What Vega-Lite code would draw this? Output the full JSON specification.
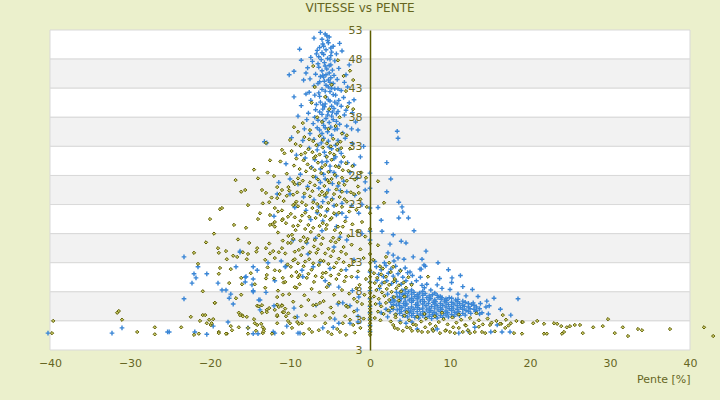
{
"$schema":"https://vega.github.io/schema/vega-lite/v6.json",
"width":640,"height":320,
"autosize":{"type":"none"},
"padding":{"left":50,"top":30,"right":30,"bottom":50},
"background":"#ebf0cc",
"config":{"view":{"stroke":null},"font":"DejaVu Sans","axis":{"labelOverlap":false}},
"title":{"text":"VITESSE vs PENTE","fontSize":12,"fontWeight":"normal","color":"#66661f","anchor":"middle","frame":"group","dx":-10,"offset":9,"font":"DejaVu Sans"},
"datasets":{
"bandes":[{"v":48,"v2":53,"b":"a"},{"v":43,"v2":48,"b":"b"},{"v":38,"v2":43,"b":"a"},{"v":33,"v2":38,"b":"b"},{"v":28,"v2":33,"b":"a"},{"v":23,"v2":28,"b":"b"},{"v":18,"v2":23,"b":"a"},{"v":13,"v2":18,"b":"b"},{"v":8,"v2":13,"b":"a"},{"v":3,"v2":8,"b":"b"},{"v":-2,"v2":3,"b":"a"}],
"bleu":[
{"p":-5.6,"v":52.3},{"p":-5.1,"v":51.8},{"p":-6.0,"v":51.4},{"p":-7.0,"v":51.6},{"p":-5.2,"v":50.8},{"p":-3.8,"v":50.7},{"p":-4.6,"v":50.2},{"p":-6.3,"v":50.0},{"p":-5.5,"v":49.6},{"p":-8.8,"v":49.7},{"p":-3.5,"v":49.4},{"p":-6.7,"v":48.9},{"p":-5.8,"v":48.8},{"p":-4.9,"v":48.6},{"p":-7.4,"v":48.3},{"p":-5.3,"v":48.1},{"p":-6.1,"v":47.9},{"p":-4.4,"v":47.7},{"p":-5.7,"v":47.4},{"p":-6.5,"v":47.2},{"p":-4.9,"v":47.0},{"p":-10.1,"v":45.3},{"p":-9.5,"v":45.9},{"p":-7.8,"v":46.5},{"p":-5.4,"v":46.3},{"p":-6.0,"v":46.0},{"p":-3.9,"v":46.4},{"p":-5.1,"v":45.6},{"p":-6.8,"v":45.4},{"p":-4.5,"v":45.2},{"p":-8.0,"v":45.6},{"p":-7.5,"v":44.6},{"p":-5.8,"v":44.9},{"p":-5.2,"v":44.4},{"p":-6.3,"v":44.1},{"p":-4.1,"v":44.5},{"p":-3.2,"v":44.0},{"p":-8.3,"v":44.4},{"p":-7.0,"v":43.4},{"p":-5.5,"v":43.5},{"p":-4.8,"v":43.0},{"p":-6.0,"v":42.8},{"p":-3.6,"v":42.6},{"p":-2.8,"v":43.2},{"p":-5.1,"v":46.9},{"p":-6.6,"v":49.5},{"p":-4.2,"v":48.9},{"p":-7.2,"v":47.6},{"p":-5.9,"v":45.2},{"p":-4.6,"v":43.8},{"p":-8.6,"v":47.8},{"p":-2.6,"v":47.0},{"p":-3.0,"v":45.3},{"p":-5.4,"v":52.0},{"p":-6.2,"v":52.6},{"p":-4.9,"v":49.9},{"p":-5.9,"v":50.6},{"p":-6.4,"v":48.4},{"p":-5.0,"v":44.0},{"p":-5.6,"v":42.5},{"p":-7.6,"v":42.3},{"p":-4.3,"v":41.8},
{"p":-5.3,"v":51.2},{"p":-5.8,"v":50.2},{"p":-4.8,"v":49.2},{"p":-6.0,"v":49.1},{"p":-5.0,"v":48.0},{"p":-5.6,"v":46.8},{"p":-6.4,"v":46.6},{"p":-4.7,"v":46.1},{"p":-5.5,"v":45.3},{"p":-6.2,"v":45.0},{"p":-4.9,"v":44.8},{"p":-5.7,"v":44.2},{"p":-6.5,"v":43.8},{"p":-5.2,"v":43.2},{"p":-4.4,"v":42.9},{"p":-6.3,"v":41.6},{"p":-5.2,"v":41.0},{"p":-4.4,"v":40.6},{"p":-5.6,"v":40.3},{"p":-6.7,"v":40.2},{"p":-4.8,"v":39.9},{"p":-5.9,"v":39.4},{"p":-4.0,"v":39.0},{"p":-6.3,"v":38.9},{"p":-5.3,"v":38.4},{"p":-4.2,"v":38.6},{"p":-5.9,"v":37.3},{"p":-4.6,"v":37.6},{"p":-6.9,"v":38.0},{"p":-5.6,"v":36.2},{"p":-4.1,"v":36.0},{"p":-6.0,"v":35.2},{"p":-4.8,"v":34.9},{"p":-5.8,"v":34.4},{"p":-4.0,"v":34.0},{"p":-6.5,"v":33.2},{"p":-5.1,"v":32.9},{"p":-3.9,"v":32.4},{"p":-5.5,"v":31.3},{"p":-6.0,"v":30.3},{"p":-4.3,"v":31.2},{"p":-3.6,"v":30.3},{"p":-5.0,"v":29.6},{"p":-4.5,"v":28.5},{"p":-5.8,"v":28.2},{"p":-6.2,"v":26.8},{"p":-4.7,"v":26.6},{"p":-3.7,"v":25.4},{"p":-5.5,"v":24.3},{"p":-6.4,"v":22.6},{"p":-4.5,"v":22.8},{"p":-3.5,"v":21.5},
{"p":-8.0,"v":42.0},{"p":-6.9,"v":41.8},{"p":-5.5,"v":41.5},{"p":-4.6,"v":41.9},{"p":-3.3,"v":41.4},{"p":-7.4,"v":40.9},{"p":-6.2,"v":40.6},{"p":-5.0,"v":40.8},{"p":-4.1,"v":40.3},{"p":-2.6,"v":40.5},{"p":-8.6,"v":40.0},{"p":-5.7,"v":39.8},{"p":-4.5,"v":39.5},{"p":-3.6,"v":39.9},{"p":-6.8,"v":39.3},{"p":-5.2,"v":39.0},{"p":-7.7,"v":38.7},{"p":-6.0,"v":38.5},{"p":-4.8,"v":38.2},{"p":-3.2,"v":38.4},{"p":-2.2,"v":38.8},{"p":-9.0,"v":38.2},{"p":-5.5,"v":37.8},{"p":-6.5,"v":37.5},{"p":-4.2,"v":37.3},{"p":-3.8,"v":36.8},{"p":-7.1,"v":36.9},{"p":-5.8,"v":36.6},{"p":-4.9,"v":36.3},{"p":-2.9,"v":36.5},{"p":-8.2,"v":36.0},{"p":-6.3,"v":35.8},{"p":-5.3,"v":35.5},{"p":-4.4,"v":35.9},{"p":-3.4,"v":35.3},{"p":-7.5,"v":35.2},{"p":-1.8,"v":37.2},{"p":-5.0,"v":42.4},{"p":-6.4,"v":42.2},{"p":-4.0,"v":42.9},{"p":-2.0,"v":41.0},{"p":-9.5,"v":41.5},{"p":-7.9,"v":37.6},{"p":-5.9,"v":40.1},{"p":-4.7,"v":38.9},{"p":-3.0,"v":39.2},{"p":-6.6,"v":36.2},{"p":-5.1,"v":37.1},{"p":-1.5,"v":35.8},{"p":-3.9,"v":40.9},{"p":-2.3,"v":36.0},
{"p":-13.2,"v":33.8},{"p":-9.8,"v":34.5},{"p":-8.4,"v":34.0},{"p":-7.0,"v":34.2},{"p":-6.1,"v":33.6},{"p":-5.2,"v":33.9},{"p":-4.3,"v":33.2},{"p":-3.1,"v":34.4},{"p":-2.2,"v":33.5},{"p":-7.6,"v":32.7},{"p":-6.6,"v":32.4},{"p":-5.7,"v":32.0},{"p":-4.8,"v":32.6},{"p":-3.6,"v":31.8},{"p":-9.2,"v":31.5},{"p":-8.1,"v":31.0},{"p":-6.9,"v":30.7},{"p":-5.4,"v":30.4},{"p":-4.5,"v":30.9},{"p":-2.8,"v":30.2},{"p":-1.2,"v":31.2},{"p":-10.5,"v":30.0},{"p":-7.3,"v":29.4},{"p":-6.2,"v":29.1},{"p":-5.0,"v":28.8},{"p":-3.9,"v":29.6},{"p":-2.5,"v":28.5},{"p":-8.7,"v":28.2},{"p":-6.8,"v":27.7},{"p":-5.6,"v":27.4},{"p":-4.2,"v":27.9},{"p":-3.3,"v":27.0},{"p":-1.6,"v":27.6},{"p":-11.4,"v":26.8},{"p":-9.0,"v":26.5},{"p":-7.8,"v":26.1},{"p":-6.4,"v":25.8},{"p":-5.2,"v":25.5},{"p":-4.0,"v":26.2},{"p":-2.9,"v":25.2},{"p":-1.9,"v":24.6},{"p":-10.0,"v":24.8},{"p":-8.3,"v":24.3},{"p":-7.0,"v":23.8},{"p":-5.9,"v":23.5},{"p":-4.7,"v":24.0},{"p":-3.5,"v":23.2},{"p":-2.3,"v":22.8},{"p":-9.4,"v":22.5},{"p":-8.0,"v":22.0},{"p":-6.6,"v":21.6},{"p":-5.4,"v":21.9},{"p":-4.2,"v":21.2},{"p":-3.0,"v":20.8},{"p":-1.4,"v":21.5},{"p":-12.0,"v":21.0},{"p":-7.4,"v":20.4},{"p":-5.9,"v":20.2},{"p":-1.0,"v":23.0},{"p":-0.6,"v":25.5},{"p":-2.0,"v":29.8},{"p":-0.8,"v":33.0},
{"p":-23.25,"v":14.0},{"p":-21.5,"v":12.3},{"p":-22.0,"v":11.1},{"p":-21.75,"v":10.4},{"p":-22.25,"v":9.5},{"p":-20.4,"v":11.1},{"p":-23.25,"v":6.8},{"p":-25.1,"v":1.1},{"p":-21.9,"v":1.1},{"p":-20.4,"v":0.7},{"p":-19.0,"v":9.5},{"p":-18.5,"v":8.3},{"p":-18.0,"v":8.3},{"p":-17.4,"v":7.6},{"p":-17.6,"v":6.9},{"p":-17.1,"v":5.9},{"p":-16.25,"v":15.0},{"p":-16.75,"v":12.3},{"p":-15.6,"v":9.7},{"p":-15.5,"v":10.6},{"p":-14.6,"v":10.2},{"p":-14.75,"v":9.2},{"p":-14.1,"v":11.7},{"p":-14.6,"v":8.2},{"p":-13.9,"v":6.6},{"p":-13.0,"v":7.9},{"p":-12.0,"v":5.6},{"p":-12.75,"v":13.0},{"p":-11.1,"v":13.3},{"p":-11.9,"v":9.9},{"p":-10.6,"v":12.3},{"p":-9.6,"v":16.9},{"p":-17.75,"v":2.8},{"p":-19.6,"v":2.1},{"p":-15.25,"v":1.8},{"p":-14.6,"v":0.8},{"p":-10.4,"v":2.1},{"p":-11.9,"v":0.9},{"p":-9.1,"v":3.7},{"p":-9.5,"v":5.2},{"p":-13.75,"v":4.9},{"p":-40.25,"v":0.9},{"p":-32.25,"v":0.9},{"p":-31.0,"v":1.8},{"p":-25.3,"v":1.1},{"p":-14.0,"v":0.8},{"p":-12.1,"v":1.1},{"p":-9.0,"v":0.9},{"p":-8.75,"v":0.9},{"p":-6.75,"v":5.7},{"p":-4.6,"v":1.9},{"p":-4.4,"v":3.3},{"p":-4.0,"v":5.9},{"p":-2.9,"v":5.6},{"p":-2.5,"v":5.6},{"p":-1.6,"v":4.9},{"p":-1.5,"v":3.8},{"p":-5.9,"v":1.8},
{"p":-12.9,"v":33.6},{"p":-11.6,"v":24.8},{"p":-10.0,"v":27.4},{"p":-16.25,"v":14.8},{"p":-15.6,"v":10.5},{"p":-14.6,"v":12.3},{"p":-14.6,"v":8.0},{"p":-13.75,"v":6.6},{"p":-10.5,"v":12.4},{"p":-8.5,"v":11.7},{"p":-8.4,"v":10.6},{"p":-7.75,"v":14.5},{"p":-7.1,"v":12.3},{"p":-7.9,"v":16.4},{"p":-6.25,"v":13.1},{"p":-5.6,"v":9.9},{"p":-5.1,"v":9.2},{"p":-3.9,"v":8.8},{"p":-4.5,"v":15.7},{"p":-3.75,"v":17.4},{"p":-2.9,"v":16.9},{"p":-3.4,"v":6.1},{"p":-1.6,"v":10.5},{"p":-1.4,"v":7.1},{"p":-1.5,"v":2.8},{"p":-2.5,"v":2.6},{"p":-3.9,"v":2.6},{"p":-6.0,"v":18.5},{"p":-5.0,"v":12.0},{"p":-2.0,"v":13.5},{"p":-1.0,"v":18.0},{"p":-4.2,"v":19.2},{"p":-6.8,"v":17.2},{"p":-3.0,"v":11.8},{"p":-2.2,"v":8.2},
{"p":3.4,"v":35.6},{"p":3.5,"v":34.4},{"p":2.1,"v":30.2},{"p":2.6,"v":27.4},{"p":2.1,"v":25.2},{"p":3.6,"v":23.4},{"p":4.0,"v":22.6},{"p":3.6,"v":20.7},{"p":4.8,"v":20.7},{"p":1.4,"v":20.3},{"p":1.5,"v":18.4},{"p":2.9,"v":17.8},{"p":2.5,"v":16.2},{"p":3.9,"v":16.7},{"p":4.5,"v":16.4},{"p":2.25,"v":14.7},{"p":2.9,"v":14.3},{"p":3.5,"v":13.8},{"p":4.25,"v":13.6},{"p":5.4,"v":14.0},{"p":6.5,"v":13.6},{"p":6.9,"v":12.4},{"p":6.4,"v":11.9},{"p":4.1,"v":21.7},{"p":5.5,"v":18.5},{"p":7.0,"v":15.0},{"p":8.5,"v":13.0},{"p":9.8,"v":11.8},{"p":11.3,"v":10.8},{"p":1.0,"v":22.5},
{"p":0,"v":1.2},{"p":0,"v":2.2},{"p":0,"v":3.3},{"p":0,"v":4.4},{"p":0,"v":5.5},{"p":0,"v":6.8},{"p":0,"v":8.2},{"p":0,"v":9.7},{"p":0,"v":11.4},{"p":0,"v":16.9},{"p":0,"v":18.4},{"p":0,"v":22.4},{"p":0,"v":25.8},{"p":0,"v":28.4},{"p":-0.6,"v":26.9},
{"p":0.8,"v":12.3},{"p":1.4,"v":11.8},{"p":2.0,"v":12.5},{"p":2.6,"v":11.9},{"p":3.2,"v":12.4},{"p":3.8,"v":11.7},{"p":4.4,"v":12.1},{"p":1.1,"v":11.0},{"p":1.7,"v":10.6},{"p":2.3,"v":11.2},{"p":2.9,"v":10.7},{"p":3.5,"v":11.1},{"p":4.1,"v":10.5},{"p":4.7,"v":11.3},{"p":5.3,"v":10.8},{"p":0.9,"v":10.0},{"p":1.5,"v":9.5},{"p":2.1,"v":9.9},{"p":2.7,"v":9.4},{"p":3.3,"v":9.8},{"p":3.9,"v":9.3},{"p":4.5,"v":9.9},{"p":5.2,"v":9.4},{"p":5.8,"v":9.9},{"p":6.3,"v":10.5},{"p":1.2,"v":8.6},{"p":6.5,"v":9.1},{"p":7.1,"v":9.3},{"p":8.4,"v":9.2},{"p":6.75,"v":12.6},{"p":6.25,"v":11.9},{"p":5.0,"v":11.4},{"p":10.25,"v":10.4},{"p":0.6,"v":13.2},{"p":1.8,"v":13.0},{"p":3.0,"v":13.3},
{"p":2.5,"v":4.6},{"p":2.7,"v":5.4},{"p":2.6,"v":6.2},{"p":2.8,"v":7.0},{"p":3.2,"v":4.1},{"p":3.4,"v":4.9},{"p":3.3,"v":5.7},{"p":3.1,"v":6.4},{"p":3.4,"v":7.2},{"p":3.3,"v":7.9},{"p":4.1,"v":3.9},{"p":3.9,"v":4.6},{"p":4.0,"v":5.3},{"p":4.2,"v":6.0},{"p":3.9,"v":6.8},{"p":4.1,"v":7.5},{"p":4.0,"v":8.2},{"p":4.7,"v":3.7},{"p":4.9,"v":4.4},{"p":4.8,"v":5.1},{"p":4.6,"v":5.9},{"p":4.9,"v":6.6},{"p":4.7,"v":7.3},{"p":4.8,"v":8.0},{"p":5.6,"v":3.6},{"p":5.4,"v":4.3},{"p":5.5,"v":5.0},{"p":5.7,"v":5.8},{"p":5.4,"v":6.5},{"p":5.6,"v":7.2},{"p":5.5,"v":7.9},{"p":6.1,"v":3.5},{"p":6.3,"v":4.2},{"p":6.2,"v":5.0},{"p":6.0,"v":5.7},{"p":6.3,"v":6.4},{"p":6.1,"v":7.1},{"p":6.2,"v":7.8},{"p":7.0,"v":3.5},{"p":6.9,"v":4.2},{"p":7.1,"v":4.9},{"p":7.0,"v":5.6},{"p":6.8,"v":6.3},{"p":7.1,"v":7.0},{"p":6.9,"v":7.7},{"p":7.7,"v":3.4},{"p":7.8,"v":4.1},{"p":7.6,"v":4.8},{"p":7.7,"v":5.5},{"p":7.9,"v":6.2},{"p":7.6,"v":6.9},{"p":7.8,"v":7.5},{"p":8.4,"v":3.5},{"p":8.3,"v":4.2},{"p":8.5,"v":4.9},{"p":8.4,"v":5.6},{"p":8.2,"v":6.3},{"p":8.5,"v":7.0},{"p":8.4,"v":7.4},{"p":9.1,"v":3.6},{"p":9.2,"v":4.3},{"p":9.0,"v":5.0},{"p":9.1,"v":5.7},{"p":9.3,"v":6.4},{"p":9.0,"v":7.0},{"p":9.8,"v":3.7},{"p":9.7,"v":4.4},{"p":9.9,"v":5.1},{"p":9.8,"v":5.8},{"p":9.6,"v":6.5},{"p":9.9,"v":7.0},{"p":10.5,"v":3.8},{"p":10.6,"v":4.5},{"p":10.4,"v":5.2},{"p":10.5,"v":5.9},{"p":10.7,"v":6.6},{"p":11.2,"v":3.9},{"p":11.1,"v":4.6},{"p":11.3,"v":5.3},{"p":11.2,"v":6.0},{"p":11.0,"v":6.7},{"p":11.9,"v":4.0},{"p":12.0,"v":4.8},{"p":11.8,"v":5.5},{"p":11.9,"v":6.2},{"p":12.6,"v":4.3},{"p":12.5,"v":5.1},{"p":12.7,"v":5.8},{"p":13.2,"v":4.6},{"p":13.3,"v":5.4},{"p":3.7,"v":5.0},{"p":4.4,"v":6.4},{"p":5.1,"v":4.7},{"p":5.9,"v":6.8},{"p":6.6,"v":4.6},{"p":7.3,"v":6.0},{"p":8.0,"v":4.5},{"p":8.8,"v":5.3},{"p":9.5,"v":4.0},{"p":10.2,"v":6.2},{"p":10.9,"v":5.0},{"p":11.6,"v":5.7},{"p":6.6,"v":7.4},{"p":5.2,"v":7.6},{"p":8.9,"v":6.7},{"p":3.6,"v":6.1},
{"p":2.9,"v":5.0},{"p":2.9,"v":5.8},{"p":2.9,"v":6.6},{"p":3.7,"v":4.3},{"p":3.7,"v":5.6},{"p":3.7,"v":6.4},{"p":3.7,"v":7.1},{"p":3.7,"v":7.8},{"p":4.4,"v":3.9},{"p":4.4,"v":4.8},{"p":4.4,"v":5.6},{"p":4.4,"v":7.0},{"p":4.4,"v":7.7},{"p":4.4,"v":8.4},{"p":5.2,"v":3.9},{"p":5.2,"v":5.4},{"p":5.2,"v":6.2},{"p":5.2,"v":6.9},{"p":5.2,"v":8.3},{"p":5.9,"v":3.9},{"p":5.9,"v":4.6},{"p":5.9,"v":5.3},{"p":5.9,"v":6.1},{"p":5.9,"v":7.5},{"p":6.6,"v":3.9},{"p":6.6,"v":5.2},{"p":6.6,"v":5.9},{"p":6.6,"v":6.7},{"p":6.6,"v":8.1},{"p":7.4,"v":3.8},{"p":7.4,"v":4.5},{"p":7.4,"v":5.2},{"p":7.4,"v":6.6},{"p":7.4,"v":7.3},{"p":8.1,"v":3.8},{"p":8.1,"v":5.2},{"p":8.1,"v":5.9},{"p":8.1,"v":6.6},{"p":8.1,"v":7.8},{"p":8.8,"v":3.9},{"p":8.8,"v":4.6},{"p":8.8,"v":6.0},{"p":8.8,"v":7.2},{"p":9.5,"v":4.7},{"p":9.5,"v":5.4},{"p":9.5,"v":6.1},{"p":9.5,"v":6.8},{"p":10.2,"v":4.1},{"p":10.2,"v":4.8},{"p":10.2,"v":5.5},{"p":10.2,"v":6.9},{"p":10.9,"v":4.2},{"p":10.9,"v":5.6},{"p":10.9,"v":6.3},{"p":11.6,"v":4.3},{"p":11.6,"v":5.0},{"p":11.6,"v":6.4},{"p":12.3,"v":4.6},{"p":12.3,"v":5.4},{"p":12.3,"v":6.0},{"p":13.0,"v":5.0},{"p":13.0,"v":5.7},{"p":13.7,"v":5.1},{"p":13.7,"v":4.2},
{"p":18.5,"v":6.8},{"p":17.6,"v":4.0},{"p":16.5,"v":1.1},{"p":17.5,"v":1.1},{"p":14.6,"v":6.4},{"p":14.9,"v":5.6},{"p":12.9,"v":6.1},{"p":14.0,"v":4.4},{"p":15.9,"v":2.3},{"p":15.1,"v":1.1},{"p":13.5,"v":7.2},{"p":15.5,"v":6.9},{"p":16.3,"v":5.0},{"p":13.3,"v":4.8},{"p":14.8,"v":4.2},{"p":12.8,"v":8.4},{"p":11.6,"v":8.9},{"p":10.2,"v":9.6},{"p":8.7,"v":10.3},{"p":7.9,"v":1.4},{"p":5.9,"v":1.6},{"p":5.25,"v":2.8},{"p":11.1,"v":0.9},{"p":12.25,"v":1.3},{"p":13.1,"v":1.9},{"p":3.75,"v":3.0},{"p":14.5,"v":5.4},{"p":8.4,"v":1.6},{"p":10.0,"v":8.4},{"p":9.0,"v":8.6},{"p":11.0,"v":7.6},{"p":12.0,"v":7.3},{"p":13.8,"v":6.0},{"p":6.8,"v":8.7},{"p":7.6,"v":8.3},{"p":4.5,"v":2.6},{"p":2.0,"v":5.0},{"p":1.4,"v":4.4},{"p":1.2,"v":6.0},{"p":2.2,"v":3.7},{"p":2.2,"v":7.6}
],
"olive":[
{"p":-8.2,"v":34.6},{"p":-7.1,"v":33.9},{"p":-6.3,"v":34.8},{"p":-5.4,"v":33.5},{"p":-4.6,"v":34.3},{"p":-3.7,"v":33.8},{"p":-9.3,"v":33.4},{"p":-2.9,"v":34.9},
{"p":-9.8,"v":32.2},{"p":-8.6,"v":31.6},{"p":-7.7,"v":32.5},{"p":-6.8,"v":31.3},{"p":-5.9,"v":32.8},{"p":-5.0,"v":31.9},{"p":-4.1,"v":32.4},{"p":-3.3,"v":31.2},{"p":-2.5,"v":32.6},{"p":-10.7,"v":31.8},
{"p":-11.2,"v":30.4},{"p":-9.5,"v":29.7},{"p":-8.3,"v":30.6},{"p":-7.4,"v":29.3},{"p":-6.5,"v":30.2},{"p":-5.6,"v":29.8},{"p":-4.8,"v":30.7},{"p":-3.9,"v":29.4},{"p":-3.0,"v":30.1},{"p":-2.2,"v":29.6},{"p":-7.0,"v":31.0},
{"p":-10.4,"v":28.3},{"p":-9.0,"v":27.5},{"p":-8.0,"v":28.7},{"p":-7.1,"v":27.8},{"p":-6.1,"v":28.4},{"p":-5.3,"v":27.2},{"p":-4.4,"v":28.1},{"p":-3.5,"v":27.6},{"p":-2.7,"v":28.8},{"p":-1.9,"v":27.3},{"p":-12.0,"v":27.9},
{"p":-11.6,"v":26.0},{"p":-10.1,"v":25.4},{"p":-8.8,"v":26.6},{"p":-7.8,"v":25.7},{"p":-6.9,"v":26.3},{"p":-6.0,"v":25.2},{"p":-5.1,"v":26.8},{"p":-4.2,"v":25.6},{"p":-3.2,"v":26.4},{"p":-2.4,"v":25.1},{"p":-1.5,"v":26.1},
{"p":-12.3,"v":24.2},{"p":-10.8,"v":23.6},{"p":-9.6,"v":24.7},{"p":-8.5,"v":23.4},{"p":-7.5,"v":24.4},{"p":-6.6,"v":23.1},{"p":-5.7,"v":24.6},{"p":-4.8,"v":23.8},{"p":-3.8,"v":24.3},{"p":-2.9,"v":23.5},{"p":-2.0,"v":24.8},{"p":-1.2,"v":23.9},
{"p":-11.0,"v":22.0},{"p":-9.9,"v":21.4},{"p":-9.0,"v":22.7},{"p":-8.1,"v":21.6},{"p":-7.2,"v":22.4},{"p":-6.2,"v":21.2},{"p":-5.3,"v":22.2},{"p":-4.5,"v":21.5},{"p":-3.5,"v":22.6},{"p":-2.6,"v":21.8},{"p":-1.7,"v":22.1},
{"p":-12.2,"v":19.6},{"p":-10.9,"v":20.5},{"p":-9.6,"v":19.3},{"p":-8.7,"v":20.2},{"p":-7.7,"v":19.5},{"p":-6.8,"v":20.7},{"p":-5.9,"v":19.8},{"p":-5.0,"v":20.4},{"p":-4.0,"v":19.2},{"p":-3.1,"v":20.1},{"p":-2.2,"v":19.6},
{"p":-11.5,"v":18.2},{"p":-10.2,"v":17.6},{"p":-9.3,"v":18.6},{"p":-8.3,"v":17.4},{"p":-7.4,"v":18.3},{"p":-6.4,"v":17.7},{"p":-5.5,"v":18.8},{"p":-4.6,"v":17.3},{"p":-3.7,"v":18.1},{"p":-2.7,"v":17.6},{"p":-1.6,"v":18.4},
{"p":-12.6,"v":16.3},{"p":-11.0,"v":15.5},{"p":-9.9,"v":16.4},{"p":-8.9,"v":15.2},{"p":-8.0,"v":16.6},{"p":-7.0,"v":15.8},{"p":-6.1,"v":16.2},{"p":-5.2,"v":15.4},{"p":-4.3,"v":16.5},{"p":-3.3,"v":15.7},{"p":-2.3,"v":16.1},{"p":-1.2,"v":15.3},
{"p":-11.9,"v":13.8},{"p":-10.6,"v":14.6},{"p":-9.6,"v":13.4},{"p":-8.6,"v":14.3},{"p":-7.6,"v":13.6},{"p":-6.7,"v":14.7},{"p":-5.8,"v":13.3},{"p":-4.9,"v":14.1},{"p":-3.9,"v":13.7},{"p":-3.0,"v":14.5},{"p":-2.0,"v":13.2},
{"p":-12.8,"v":12.2},{"p":-11.3,"v":11.6},{"p":-10.3,"v":12.7},{"p":-9.2,"v":11.4},{"p":-8.3,"v":12.4},{"p":-7.3,"v":11.8},{"p":-6.4,"v":12.6},{"p":-5.5,"v":11.3},{"p":-4.5,"v":12.2},{"p":-3.6,"v":11.7},{"p":-2.6,"v":12.5},{"p":-1.5,"v":11.5},
{"p":-12.0,"v":10.3},{"p":-10.8,"v":9.6},{"p":-9.8,"v":10.7},{"p":-8.8,"v":9.3},{"p":-7.9,"v":10.4},{"p":-7.0,"v":9.7},{"p":-6.0,"v":10.5},{"p":-5.1,"v":9.4},{"p":-4.2,"v":10.2},{"p":-3.2,"v":9.8},{"p":-2.3,"v":10.6},{"p":-1.3,"v":9.2},
{"p":-11.5,"v":8.2},{"p":-10.1,"v":7.6},{"p":-9.2,"v":8.7},{"p":-8.2,"v":7.4},{"p":-7.3,"v":8.5},{"p":-6.3,"v":7.9},{"p":-5.4,"v":8.8},{"p":-4.5,"v":7.5},{"p":-3.5,"v":8.3},{"p":-2.6,"v":7.7},{"p":-1.7,"v":8.6},
{"p":-9.6,"v":6.3},{"p":-8.6,"v":5.5},{"p":-7.7,"v":6.6},{"p":-6.7,"v":5.8},{"p":-5.8,"v":6.4},{"p":-4.9,"v":5.3},{"p":-3.9,"v":6.2},{"p":-3.0,"v":5.6},{"p":-2.0,"v":6.8},{"p":-1.0,"v":5.9},
{"p":-8.7,"v":33.1},{"p":-7.6,"v":34.2},{"p":-6.7,"v":33.2},{"p":-5.9,"v":34.1},{"p":-4.9,"v":33.0},{"p":-4.1,"v":33.4},
{"p":-9.2,"v":30.9},{"p":-8.1,"v":31.9},{"p":-7.2,"v":32.0},{"p":-6.3,"v":31.6},{"p":-5.4,"v":31.2},{"p":-4.5,"v":31.6},{"p":-3.6,"v":32.7},
{"p":-8.8,"v":29.1},{"p":-7.8,"v":29.9},{"p":-6.9,"v":28.9},{"p":-6.0,"v":29.4},{"p":-5.2,"v":28.6},{"p":-4.3,"v":29.6},{"p":-3.4,"v":28.9},
{"p":-9.6,"v":26.9},{"p":-8.4,"v":27.1},{"p":-7.5,"v":26.8},{"p":-6.5,"v":27.3},{"p":-5.7,"v":26.2},{"p":-4.8,"v":27.4},{"p":-3.9,"v":26.7},{"p":-2.9,"v":27.1},
{"p":-9.1,"v":25.1},{"p":-8.2,"v":24.9},{"p":-7.2,"v":25.3},{"p":-6.3,"v":24.6},{"p":-5.4,"v":25.0},{"p":-4.5,"v":24.8},{"p":-3.5,"v":25.2},
{"p":-9.4,"v":23.1},{"p":-8.0,"v":22.9},{"p":-7.1,"v":23.4},{"p":-6.1,"v":22.6},{"p":-5.2,"v":23.3},{"p":-4.2,"v":22.9},{"p":-3.2,"v":23.9},
{"p":-9.4,"v":20.8},{"p":-8.5,"v":21.1},{"p":-7.6,"v":20.9},{"p":-6.6,"v":21.9},{"p":-5.6,"v":21.0},{"p":-4.8,"v":20.7},{"p":-3.9,"v":21.6},
{"p":-9.0,"v":19.4},{"p":-8.1,"v":18.8},{"p":-7.1,"v":19.0},{"p":-6.3,"v":19.3},{"p":-5.4,"v":19.5},{"p":-4.4,"v":18.6},{"p":-3.4,"v":19.2},
{"p":-9.6,"v":17.1},{"p":-8.7,"v":16.8},{"p":-7.8,"v":17.1},{"p":-6.9,"v":16.9},{"p":-5.9,"v":17.2},{"p":-4.9,"v":16.7},{"p":-3.9,"v":17.0},
{"p":-9.4,"v":14.9},{"p":-8.4,"v":15.6},{"p":-7.5,"v":14.8},{"p":-6.5,"v":15.3},{"p":-5.6,"v":14.6},{"p":-4.6,"v":15.0},{"p":-3.6,"v":14.9},
{"p":-9.0,"v":12.9},{"p":-8.1,"v":13.2},{"p":-7.1,"v":12.9},{"p":-6.2,"v":13.4},{"p":-5.2,"v":12.8},{"p":-4.2,"v":13.0},{"p":-3.3,"v":13.1},
{"p":-8.8,"v":10.9},{"p":-7.7,"v":11.1},{"p":-6.8,"v":10.7},{"p":-5.9,"v":11.2},{"p":-4.9,"v":10.8},{"p":-3.9,"v":11.0},{"p":-3.0,"v":10.6},
{"p":-7.1,"v":46.8},{"p":-5.6,"v":41.5},{"p":-3.3,"v":45.1},{"p":-2.8,"v":39.8},{"p":-2.1,"v":39.4},{"p":-3.8,"v":38.0},{"p":-6.6,"v":38.0},{"p":-7.3,"v":40.5},{"p":-5.1,"v":39.4},{"p":-7.5,"v":35.8},{"p":-4.3,"v":36.5},{"p":-6.0,"v":37.2},{"p":-2.5,"v":46.0},{"p":-2.1,"v":44.4},{"p":-3.0,"v":42.5},{"p":-4.8,"v":43.6},{"p":-8.4,"v":37.0},{"p":-9.0,"v":35.5},{"p":-5.2,"v":36.0},{"p":-3.5,"v":35.2},{"p":-6.9,"v":43.2},{"p":-4.0,"v":47.8},
{"p":0,"v":0.6},{"p":0,"v":1.0},{"p":0,"v":1.5},{"p":0,"v":2.0},{"p":0,"v":2.6},{"p":0,"v":3.1},{"p":0,"v":3.6},{"p":0,"v":4.1},{"p":0,"v":4.6},{"p":0,"v":5.1},{"p":0,"v":5.7},{"p":0,"v":6.3},{"p":0,"v":7.0},{"p":0,"v":7.8},{"p":0,"v":8.7},{"p":0,"v":9.6},{"p":0,"v":10.6},{"p":0,"v":11.7},{"p":0,"v":13.0},{"p":0,"v":14.5},{"p":0,"v":16.3},{"p":0,"v":18.8},{"p":-0.5,"v":27.6},{"p":0,"v":21.5},
{"p":-1.0,"v":20.0},{"p":-0.6,"v":17.5},{"p":-1.4,"v":25.0},{"p":-0.8,"v":13.8},{"p":-0.5,"v":10.2},{"p":-0.7,"v":7.5},{"p":-1.1,"v":28.5},{"p":-0.4,"v":22.6},
{"p":0.5,"v":11.2},{"p":0.9,"v":10.4},{"p":1.4,"v":11.0},{"p":2.0,"v":10.6},{"p":2.6,"v":11.4},{"p":3.1,"v":10.2},{"p":0.6,"v":9.5},{"p":1.2,"v":9.0},{"p":1.8,"v":9.6},{"p":2.4,"v":9.2},{"p":3.0,"v":9.8},{"p":3.6,"v":9.1},{"p":4.2,"v":9.6},{"p":0.8,"v":8.3},{"p":1.5,"v":7.9},{"p":2.1,"v":8.5},{"p":2.7,"v":8.0},{"p":3.3,"v":8.6},{"p":3.9,"v":8.1},{"p":4.5,"v":8.7},{"p":0.5,"v":7.2},{"p":1.1,"v":6.8},{"p":1.8,"v":7.3},{"p":2.4,"v":6.6},{"p":3.0,"v":7.1},{"p":3.6,"v":6.5},{"p":4.3,"v":7.2},{"p":0.7,"v":5.9},{"p":1.4,"v":5.5},{"p":2.0,"v":6.1},{"p":2.8,"v":5.3},{"p":1.0,"v":4.6},{"p":1.7,"v":4.2},{"p":2.3,"v":4.8},{"p":3.2,"v":4.1},{"p":0.6,"v":3.5},{"p":1.3,"v":3.1},{"p":4.8,"v":10.5},{"p":5.2,"v":9.2},{"p":1.6,"v":12.0},{"p":2.9,"v":12.3},{"p":0.4,"v":13.5},{"p":3.8,"v":11.6},{"p":1.0,"v":16.0},{"p":2.0,"v":14.0},{"p":1.0,"v":27.0},{"p":1.75,"v":23.3},{"p":2.4,"v":13.0},{"p":7.25,"v":10.6},{"p":1.25,"v":12.4},
{"p":3.2,"v":3.6},{"p":3.8,"v":2.7},{"p":4.3,"v":3.9},{"p":4.9,"v":3.1},{"p":5.4,"v":2.4},{"p":5.9,"v":3.7},{"p":6.4,"v":2.9},{"p":7.0,"v":3.4},{"p":7.5,"v":2.5},{"p":8.1,"v":3.8},{"p":8.6,"v":2.8},{"p":9.2,"v":3.3},{"p":9.7,"v":2.4},{"p":10.3,"v":3.6},{"p":10.8,"v":2.7},{"p":11.4,"v":3.2},{"p":11.9,"v":2.3},{"p":12.5,"v":3.5},{"p":13.0,"v":2.6},{"p":13.6,"v":3.1},{"p":14.1,"v":2.4},{"p":14.7,"v":3.4},{"p":15.2,"v":2.7},{"p":15.8,"v":3.0},{"p":16.4,"v":2.5},{"p":17.0,"v":3.2},{"p":17.6,"v":2.6},{"p":18.3,"v":3.0},{"p":19.0,"v":2.8},{"p":4.6,"v":4.5},{"p":6.8,"v":4.2},{"p":9.0,"v":4.4},{"p":11.1,"v":4.1},{"p":13.3,"v":4.3},{"p":2.6,"v":2.9},{"p":3.5,"v":1.6},{"p":5.0,"v":1.8},{"p":6.0,"v":1.3},{"p":7.8,"v":1.6},{"p":9.5,"v":1.4},{"p":16.6,"v":4.0},{"p":17.3,"v":2.2},
{"p":2.9,"v":2.3},{"p":3.1,"v":1.8},{"p":4.1,"v":1.3},{"p":5.25,"v":1.3},{"p":5.75,"v":2.3},{"p":6.5,"v":1.1},{"p":7.25,"v":1.1},{"p":7.9,"v":1.3},{"p":8.75,"v":0.9},{"p":9.4,"v":1.3},{"p":10.0,"v":1.1},{"p":10.6,"v":0.9},{"p":11.1,"v":1.8},{"p":11.6,"v":1.1},{"p":12.25,"v":1.4},{"p":12.5,"v":0.9},{"p":13.1,"v":1.1},{"p":14.0,"v":1.1},{"p":14.4,"v":0.9},{"p":15.0,"v":2.3},{"p":16.25,"v":2.5},{"p":18.0,"v":0.9},{"p":19.0,"v":0.8},{"p":19.1,"v":2.8},{"p":20.4,"v":2.6},{"p":20.9,"v":3.0},{"p":21.75,"v":2.5},{"p":21.75,"v":0.8},{"p":22.1,"v":0.8},{"p":23.0,"v":2.6},{"p":23.4,"v":2.5},{"p":23.9,"v":2.1},{"p":24.0,"v":0.8},{"p":24.25,"v":1.1},{"p":24.6,"v":1.9},{"p":25.0,"v":2.1},{"p":25.6,"v":2.3},{"p":26.25,"v":2.3},{"p":26.6,"v":0.9},{"p":27.9,"v":1.9},{"p":29.1,"v":2.1},{"p":29.75,"v":3.3},{"p":30.6,"v":0.9},{"p":31.6,"v":1.9},{"p":32.25,"v":0.4},{"p":33.5,"v":1.6},{"p":34.0,"v":1.4},{"p":37.5,"v":1.6},{"p":41.75,"v":1.9},{"p":42.9,"v":0.4},{"p":15.6,"v":1.2},{"p":16.9,"v":1.8},{"p":13.6,"v":2.0},{"p":12.0,"v":2.2},{"p":10.4,"v":1.9},{"p":8.2,"v":2.1},{"p":6.9,"v":1.9},{"p":4.6,"v":1.9},
{"p":-39.6,"v":3.0},{"p":-39.75,"v":0.9},{"p":-31.6,"v":4.4},{"p":-31.4,"v":4.7},{"p":-31.0,"v":3.2},{"p":-29.1,"v":1.1},{"p":-26.9,"v":1.9},{"p":-26.9,"v":0.7},{"p":-23.6,"v":1.9},{"p":-22.4,"v":3.7},{"p":-22.0,"v":0.6},{"p":-21.4,"v":0.8},{"p":-20.9,"v":4.0},{"p":-20.6,"v":4.0},{"p":-21.25,"v":3.0},{"p":-20.4,"v":2.6},{"p":-19.9,"v":2.3},{"p":-19.4,"v":6.1},{"p":-19.6,"v":3.3},{"p":-18.9,"v":1.1},{"p":-17.9,"v":0.8},{"p":-17.4,"v":2.1},{"p":-17.25,"v":1.4},{"p":-16.4,"v":4.4},{"p":-16.0,"v":4.0},{"p":-15.4,"v":3.7},{"p":-15.25,"v":1.8},{"p":-15.25,"v":0.8},{"p":-14.5,"v":3.3},{"p":-14.1,"v":2.3},{"p":-13.6,"v":2.5},{"p":-14.1,"v":5.6},{"p":-13.5,"v":4.4},{"p":-12.9,"v":4.9},{"p":-12.6,"v":5.2},{"p":-13.25,"v":1.6},{"p":-13.4,"v":0.9},{"p":-12.25,"v":0.8},{"p":-11.6,"v":2.6},{"p":-11.6,"v":3.8},{"p":-11.9,"v":4.9},{"p":-11.6,"v":5.8},{"p":-11.4,"v":5.4},{"p":-10.9,"v":4.5},{"p":-10.5,"v":3.8},{"p":-10.9,"v":0.9},{"p":-11.0,"v":5.7},{"p":-10.6,"v":5.1},{"p":-9.75,"v":1.8},{"p":-9.1,"v":2.8},{"p":-8.9,"v":2.5},{"p":-8.5,"v":2.6},{"p":-8.0,"v":4.0},{"p":-7.6,"v":1.6},{"p":-7.25,"v":1.1},{"p":-7.1,"v":5.7},{"p":-6.9,"v":3.8},{"p":-6.25,"v":6.1},{"p":-6.0,"v":4.4},{"p":-5.6,"v":2.6},{"p":-5.25,"v":1.1},{"p":-5.0,"v":3.5},{"p":-4.6,"v":4.4},{"p":-4.1,"v":1.6},{"p":-3.75,"v":1.1},{"p":-3.4,"v":2.6},{"p":-3.1,"v":3.8},{"p":-2.75,"v":5.4},{"p":-2.5,"v":3.2},{"p":-2.1,"v":2.3},{"p":-2.0,"v":4.6},{"p":-1.6,"v":6.3},{"p":-1.2,"v":1.8},{"p":-0.8,"v":3.4},{"p":-6.4,"v":1.4},{"p":-8.3,"v":0.8},{"p":-9.4,"v":3.6},{"p":-4.8,"v":0.7},{"p":-1.9,"v":1.0},{"p":-3.0,"v":0.6},
{"p":-16.1,"v":25.2},{"p":-18.75,"v":22.2},{"p":-18.5,"v":22.4},{"p":-15.25,"v":22.9},{"p":-13.5,"v":25.5},{"p":-13.0,"v":25.0},{"p":-13.75,"v":21.5},{"p":-13.4,"v":23.2},{"p":-12.6,"v":23.4},{"p":-12.5,"v":21.2},{"p":-11.9,"v":22.4},{"p":-11.5,"v":21.8},{"p":-11.0,"v":25.5},{"p":-11.6,"v":24.1},{"p":-10.4,"v":24.5},{"p":-10.2,"v":26.0},{"p":-11.3,"v":24.8},{"p":-9.4,"v":26.5},{"p":-9.6,"v":22.9},{"p":-9.2,"v":23.5},{"p":-10.25,"v":20.9},{"p":-10.5,"v":19.8},{"p":-11.0,"v":20.3},{"p":-11.9,"v":20.0},{"p":-11.9,"v":19.2},{"p":-12.5,"v":19.5},{"p":-9.75,"v":17.8},{"p":-10.25,"v":16.4},{"p":-10.9,"v":16.8},{"p":-11.4,"v":14.8},{"p":-12.1,"v":15.0},{"p":-13.0,"v":15.5},{"p":-12.5,"v":14.6},{"p":-13.1,"v":13.5},{"p":-14.1,"v":15.5},{"p":-14.2,"v":14.9},{"p":-15.1,"v":16.4},{"p":-15.25,"v":14.5},{"p":-15.4,"v":13.6},{"p":-15.9,"v":14.8},{"p":-16.6,"v":14.0},{"p":-17.1,"v":14.2},{"p":-17.9,"v":13.6},{"p":-18.0,"v":15.0},{"p":-18.9,"v":14.7},{"p":-19.0,"v":15.5},{"p":-22.0,"v":14.7},{"p":-21.5,"v":12.8},{"p":-18.75,"v":12.1},{"p":-17.4,"v":11.9},{"p":-18.9,"v":11.1},{"p":-17.6,"v":9.5},{"p":-16.1,"v":10.4},{"p":-16.0,"v":9.3},{"p":-14.9,"v":11.2},{"p":-14.4,"v":9.3},{"p":-13.1,"v":8.7},{"p":-13.5,"v":5.7},{"p":-13.9,"v":5.5},{"p":-16.1,"v":7.5},{"p":-16.75,"v":6.9},{"p":-20.9,"v":8.1},{"p":-19.4,"v":6.1},{"p":-20.1,"v":3.2},{"p":-19.8,"v":2.6},{"p":-18.9,"v":0.9},{"p":-18.0,"v":0.8},{"p":-16.4,"v":1.9},{"p":-16.25,"v":4.0},{"p":-15.9,"v":3.8},{"p":-14.4,"v":2.6},{"p":-14.25,"v":1.3},{"p":-13.4,"v":1.9},{"p":-13.3,"v":1.2},{"p":-11.6,"v":4.0},{"p":-10.75,"v":4.5},{"p":-11.6,"v":7.1},{"p":-11.0,"v":5.6},{"p":-10.9,"v":7.5},{"p":-10.2,"v":4.3},{"p":-10.25,"v":3.0},{"p":-10.0,"v":2.6},{"p":-12.9,"v":4.5},{"p":-11.9,"v":11.7},{"p":-12.9,"v":10.9},{"p":-13.0,"v":10.3},{"p":-10.9,"v":10.4},{"p":-10.6,"v":9.7},{"p":-9.9,"v":12.3},{"p":-9.4,"v":13.6},{"p":-9.0,"v":10.5},{"p":-9.4,"v":8.8},{"p":-13.0,"v":33.6},{"p":-15.6,"v":25.5},{"p":-12.5,"v":30.6},{"p":-11.0,"v":32.4},{"p":-10.0,"v":34.1},{"p":-14.5,"v":29.0},{"p":-16.8,"v":27.2},{"p":-20.0,"v":20.5},{"p":-19.5,"v":18.0},{"p":-17.0,"v":19.5},{"p":-15.5,"v":19.0},{"p":-14.0,"v":20.5},{"p":-16.5,"v":17.0},{"p":-20.5,"v":16.5},{"p":-14.0,"v":27.5},{"p":-12.8,"v":28.5},{"p":-9.5,"v":36.3}
]
},
"encoding":{
 "y":{"field":"v","type":"quantitative","scale":{"domain":[-2,53],"nice":false,"zero":false},
  "axis":{"title":null,"values":[53,48,43,38,33,28,23,18,13,8,3,-2],"labelExpr":"datum.value < 0 ? '3' : datum.label","grid":false,"ticks":false,"tickSize":0,"offset":-320,"domainColor":"#5c5c00","domainWidth":1.5,"labelPadding":8,"labelFontSize":11,"labelColor":"#66661f","labelFlush":false,"labelOverlap":false,"labelBound":false,"labelFont":"DejaVu Sans","zindex":1}}
},
"layer":[
{"data":{"name":"bandes"},
 "mark":{"type":"rect","stroke":"#d9d9d9","strokeWidth":1},
 "encoding":{
  "x":{"datum":-40,"type":"quantitative","scale":{"domain":[-40,40],"nice":false,"zero":false},
   "axis":{"title":"Pente [%]","values":[-40,-35,-30,-25,-20,-15,-10,-5,0,5,10,15,20,25,30,35,40],"grid":false,"domain":false,"ticks":false,"tickSize":0,"labelPadding":7,"labelFontSize":11,"labelColor":"#66661f","labelFlush":false,"labelOverlap":false,"labelFont":"DejaVu Sans","titleFont":"DejaVu Sans","titleFontSize":11,"titleFontWeight":"normal","titleColor":"#66661f","titleAnchor":"end","titlePadding":5}},
  "x2":{"datum":40},
  "y2":{"field":"v2"},
  "fill":{"field":"b","type":"nominal","scale":{"range":["#ffffff","#f2f2f2"]},"legend":null}
 }},
{"data":{"name":"bleu"},
 "mark":{"type":"point","shape":"M-1,0H1M0,-1V1","size":22,"filled":false,"stroke":"#3a86d6","strokeWidth":1.4,"opacity":1},
 "encoding":{"x":{"field":"p","type":"quantitative","axis":{"title":"Pente [%]"}}}},
{"data":{"name":"olive"},
 "mark":{"type":"point","shape":"diamond","size":11,"filled":true,"fill":"#cfcf6a","stroke":"#5a5a00","strokeWidth":1,"opacity":1},
 "encoding":{"x":{"field":"p","type":"quantitative","axis":{"title":"Pente [%]"}}}}
]
}
